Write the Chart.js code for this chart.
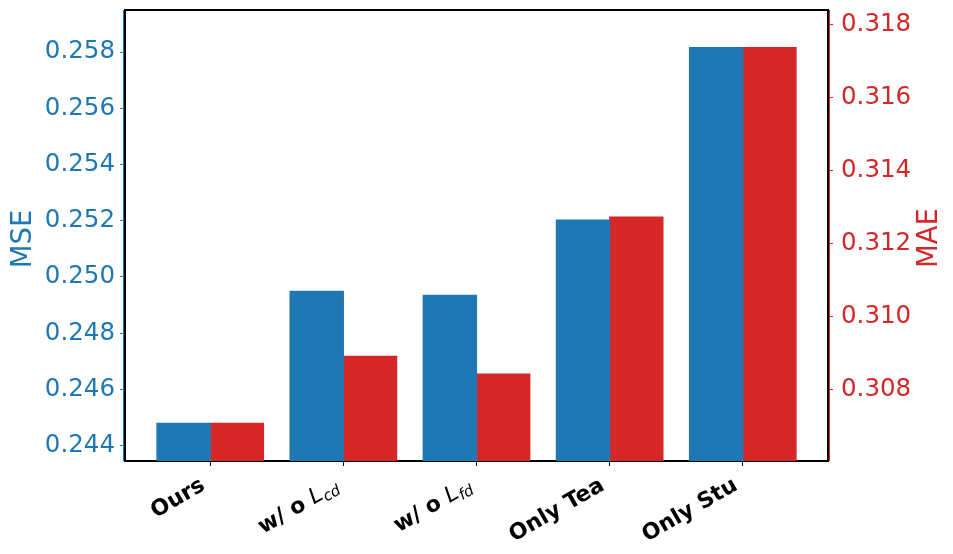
<!DOCTYPE html>
<html>
<head>
<meta charset="utf-8">
<script src="https://cdn.jsdelivr.net/npm/chart.js@4.4.1/dist/chart.umd.min.js"></script>
<style>
  html, body { margin: 0; padding: 0; background: #fff; }
  canvas { display: block; }
</style>
</head>
<body>
<canvas id="c" width="953" height="554"></canvas>
<script>
// ---- data ----
const categories = ['Ours', 'w/ o $L_{cd}$', 'w/ o $L_{fd}$', 'Only Tea', 'Only Stu'];
const mseValues = [0.24479, 0.24949, 0.24935, 0.25202, 0.25816];
const maeValues = [0.30707, 0.30891, 0.30842, 0.31273, 0.31738];
const mseTicks = [0.244, 0.246, 0.248, 0.250, 0.252, 0.254, 0.256, 0.258];
const maeTicks = [0.308, 0.310, 0.312, 0.314, 0.316, 0.318];
const mseTitle = 'MSE';
const maeTitle = 'MAE';

const BLUE = '#1f77b4';
const RED = '#d62728';
const FONT = "'DejaVu Sans', 'Liberation Sans', sans-serif";

function limits(vals) {
  const lo = Math.min(...vals), hi = Math.max(...vals), r = hi - lo;
  return [lo - 0.1 * r, hi + 0.1 * r];
}
const [mseMin, mseMax] = limits(mseValues);
const [maeMin, maeMax] = limits(maeValues);

// parse "text $L_{sub}$" into segments
function parseLabel(s) {
  const segs = [];
  const parts = s.split('$');
  parts.forEach((p, i) => {
    if (!p) return;
    if (i % 2 === 0) {
      segs.push({ text: p, font: 'bold 22px ' + FONT, dy: 0 });
    } else {
      const m = p.match(/^([^_]*)(?:_\{([^}]*)\})?$/);
      if (m) {
        if (m[1]) segs.push({ text: m[1], font: 'italic 22px ' + FONT, dy: 0 });
        if (m[2]) segs.push({ text: m[2], font: 'italic 15px ' + FONT, dy: 4 });
      } else {
        segs.push({ text: p, font: 'italic 22px ' + FONT, dy: 0 });
      }
    }
  });
  return segs;
}

function noPad(s) { s.paddingTop = 0; s.paddingBottom = 0; s.paddingLeft = 0; s.paddingRight = 0; }

const decor = {
  id: 'decor',
  afterDraw(chart) {
    const ctx = chart.ctx;
    const a = chart.chartArea;
    ctx.save();
    // top spine
    ctx.strokeStyle = '#000';
    ctx.lineWidth = 2;
    ctx.beginPath();
    ctx.moveTo(a.left - 1, a.top);
    ctx.lineTo(a.right + 1, a.top);
    ctx.stroke();
    // colored spine edges
    ctx.lineWidth = 1;
    ctx.strokeStyle = BLUE;
    ctx.beginPath();
    ctx.moveTo(a.left - 1.5, a.top);
    ctx.lineTo(a.left - 1.5, a.bottom);
    ctx.stroke();
    ctx.strokeStyle = RED;
    ctx.beginPath();
    ctx.moveTo(a.right + 1.5, a.top);
    ctx.lineTo(a.right + 1.5, a.bottom);
    ctx.stroke();

    // axis titles
    ctx.font = '27.5px ' + FONT;
    ctx.textAlign = 'center';
    ctx.textBaseline = 'middle';
    ctx.fillStyle = BLUE;
    ctx.save();
    ctx.translate(23.5, 239);
    ctx.rotate(-Math.PI / 2);
    ctx.fillText(mseTitle, 0, 0);
    ctx.restore();
    ctx.fillStyle = RED;
    ctx.save();
    ctx.translate(930, 238);
    ctx.rotate(-Math.PI / 2);
    ctx.fillText(maeTitle, 0, 0);
    ctx.restore();

    // x tick labels (rotated 30deg, right aligned to tick)
    const xs = chart.scales.x;
    ctx.fillStyle = '#000';
    ctx.textAlign = 'left';
    ctx.textBaseline = 'alphabetic';
    const ang = Math.PI / 6;
    categories.forEach((lab, i) => {
      const segs = parseLabel(lab);
      let w = 0;
      segs.forEach(sg => { ctx.font = sg.font; sg.w = ctx.measureText(sg.text).width; w += sg.w; });
      const px = xs.getPixelForValue(i);
      const isMath = lab.indexOf('$') >= 0;
      const ex = px - (isMath ? 3.5 : 4);
      const ey = isMath ? 489.5 : 489;
      const ox = ex - Math.cos(ang) * w;
      const oy = ey + Math.sin(ang) * w;
      ctx.save();
      ctx.translate(ox, oy);
      ctx.rotate(-ang);
      let cx = 0;
      segs.forEach(sg => {
        ctx.font = sg.font;
        ctx.fillText(sg.text, cx, sg.dy);
        cx += sg.w;
      });
      ctx.restore();
    });
    ctx.restore();
  }
};

new Chart(document.getElementById('c'), {
  type: 'bar',
  data: {
    datasets: [
      {
        label: mseTitle,
        data: mseValues.map((v, i) => ({ x: i, y: v })),
        backgroundColor: BLUE,
        borderWidth: 0,
        inflateAmount: 0.6,
        yAxisID: 'y',
        categoryPercentage: 0.8,
        barPercentage: 1.0
      },
      {
        label: maeTitle,
        data: maeValues.map((v, i) => ({ x: i, y: v })),
        backgroundColor: RED,
        borderWidth: 0,
        inflateAmount: 0.6,
        yAxisID: 'y1',
        categoryPercentage: 0.8,
        barPercentage: 1.0
      }
    ]
  },
  options: {
    responsive: false,
    animation: false,
    devicePixelRatio: 1,
    layout: { padding: { top: 10, left: 0, right: 0, bottom: 0 } },
    plugins: { legend: { display: false }, tooltip: { enabled: false } },
    scales: {
      x: {
        type: 'linear',
        position: 'bottom',
        min: -0.64,
        max: 4.64,
        offset: false,
        ticks: { stepSize: 1, includeBounds: false, callback: () => '', font: { size: 1 } },
        grid: { display: true, offset: false, drawOnChartArea: false, drawTicks: true, tickLength: 5, color: '#000', lineWidth: 1 },
        border: { display: true, color: '#000', width: 2 },
        afterFit(s) { s.height = 93; noPad(s); }
      },
      y: {
        type: 'linear',
        position: 'left',
        min: mseMin,
        max: mseMax,
        afterBuildTicks(s) { s.ticks = mseTicks.map(v => ({ value: v })); },
        ticks: {
          color: BLUE,
          font: { family: FONT, size: 24.5 },
          padding: 5,
          callback: v => Number(v).toFixed(3)
        },
        grid: { display: true, drawOnChartArea: false, drawTicks: true, tickLength: 5, color: BLUE, lineWidth: 1 },
        border: { display: true, color: '#000', width: 2 },
        afterFit(s) { s.width = 125; noPad(s); }
      },
      y1: {
        type: 'linear',
        position: 'right',
        min: maeMin,
        max: maeMax,
        afterBuildTicks(s) { s.ticks = maeTicks.map(v => ({ value: v })); },
        ticks: {
          color: RED,
          font: { family: FONT, size: 24.5 },
          padding: 8,
          callback: v => Number(v).toFixed(3)
        },
        grid: { display: true, drawOnChartArea: false, drawTicks: true, tickLength: 5, color: RED, lineWidth: 1 },
        border: { display: true, color: '#000', width: 2 },
        afterFit(s) { s.width = 125; noPad(s); }
      }
    }
  },
  plugins: [decor]
});
</script>
</body>
</html>
